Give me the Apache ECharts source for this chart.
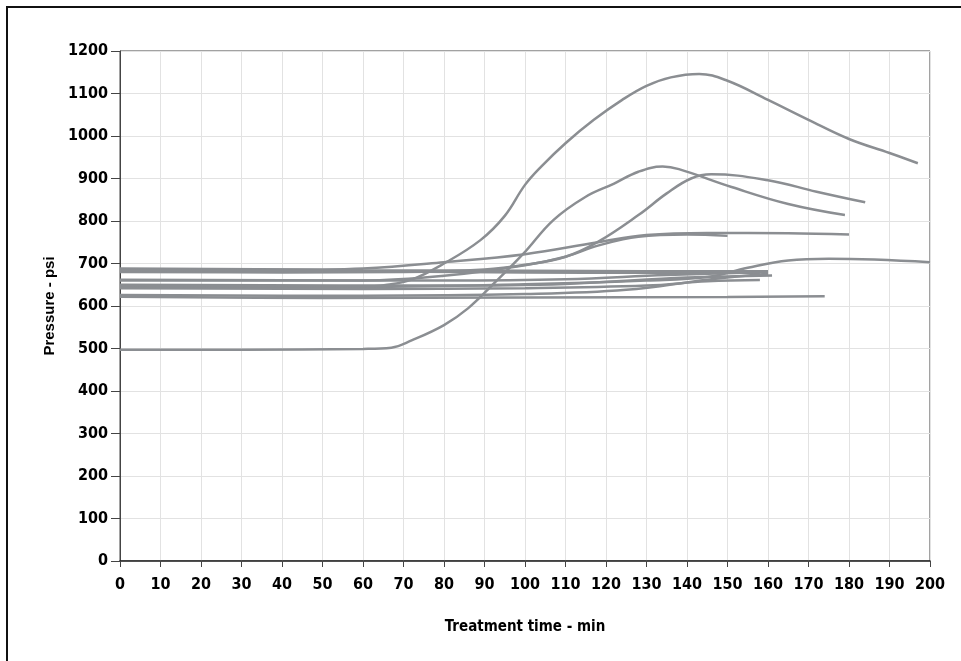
<!DOCTYPE html>
<html>
<head>
<meta charset="utf-8">
<script src="https://cdn.jsdelivr.net/npm/echarts@6/dist/echarts.min.js"></script>
<style>
html,body{margin:0;padding:0;background:#fff;}
#chart{width:961px;height:661px;}
</style>
</head>
<body>
<div id="chart"></div>
<script>
// Treatment time (min) ticks and pressure (psi) ticks
const xTicks = [0,10,20,30,40,50,60,70,80,90,100,110,120,130,140,150,160,170,180,190,200];
const yTicks = [0,100,200,300,400,500,600,700,800,900,1000,1100,1200];

// Each well curve: [time, pressure]
const wellPeak1146 = [[0,645],[30,644],[60,645],[66,650],[72,662],[80,700],[89,755],[95,812],[100,885],[104,928],[110,983],[117,1038],[124,1085],[130,1118],[136,1138],[143,1146],[150,1130],[160,1085],[170,1038],[180,993],[190,960],[197,936]];
const wellPeak927 = [[0,497],[30,497],[60,499],[67,502],[72,519],[80,555],[86,595],[92,650],[99.6,723],[107,802],[115,857],[122,888],[128,916],[134,928],[138,922],[151,880],[165,840],[179,814]];
const wellPeak910 = [[0,680],[40,679],[70,680],[90,686],[100,697],[110,716],[118,751],[128,814],[135,865],[141,900],[146,910],[160,896],[172,869],[184,844]];
const wellPlateau770 = [[0,688],[50,686],[60,688],[80,703],[100,722],[118,750],[130,767],[145,772],[165,771],[180,768]];
const wellEnd766 = [[0,662],[60,660],[80,671],[100,696],[110,716],[118,742],[128,763],[140,768],[150,765]];
const wellRise710 = [[0,648],[60,645],[100,651],[130,660],[145,668],[155,690],[165,707],[175,711],[200,703]];
const wellFlat620 = [[0,622],[50,619],[100,620],[150,621],[174,623]];
const wellEnd682 = [[0,686],[60,684],[100,683],[130,682],[160,682]];
const wellEnd678 = [[0,684],[50,682],[100,679],[130,678],[158,678]];
const wellEnd672 = [[0,650],[80,648],[110,652],[140,667],[161,672]];
const wellEnd660 = [[0,642],[60,640],[100,642],[130,648],[145,658],[158,661]];
const wellEnd676 = [[0,626],[60,624],[100,628],[125,638],[145,662],[160,676]];
const wellEnd680 = [[0,660],[80,660],[110,663],[135,673],[160,680]];

const wells = [wellPeak1146, wellPeak927, wellPeak910, wellPlateau770, wellEnd766, wellRise710,
  wellFlat620, wellEnd682, wellEnd678, wellEnd672, wellEnd660, wellEnd676, wellEnd680];

const chart = echarts.init(document.getElementById('chart'));
const tickFont = '"Liberation Sans Narrow","DejaVu Sans Condensed","Liberation Sans",sans-serif';

chart.setOption({
  animation: false,
  backgroundColor: '#fff',
  graphic: [{
    type: 'rect',
    shape: {x: 7, y: 7, width: 1000, height: 700},
    style: {fill: 'none', stroke: '#111', lineWidth: 2},
    silent: true
  }],
  grid: {left: 120, right: 31, top: 51, bottom: 100, show: true, borderColor: '#444', borderWidth: 1, backgroundColor: 'transparent'},
  xAxis: {
    type: 'value', min: xTicks[0], max: xTicks[xTicks.length-1], interval: 10,
    name: 'Treatment time - min', nameLocation: 'middle', nameGap: 59,
    nameTextStyle: {fontFamily: tickFont, fontWeight: 'bold', fontSize: 15, color: '#000'},
    axisLine: {lineStyle: {color: '#222', width: 1.5}},
    axisTick: {show: true, length: 6, lineStyle: {color: '#444'}},
    axisLabel: {fontFamily: tickFont, fontWeight: 'bold', fontSize: 16, color: '#000', margin: 16,
      formatter: v => String(v)},
    splitLine: {show: true, lineStyle: {color: '#e2e2e2', width: 1}}
  },
  yAxis: {
    type: 'value', min: yTicks[0], max: yTicks[yTicks.length-1], interval: 100,
    name: 'Pressure - psi', nameLocation: 'middle', nameGap: 58,
    nameTextStyle: {fontFamily: '"Liberation Sans",Arial,sans-serif', fontWeight: 'bold', fontSize: 15, color: '#000'},
    axisLine: {show: true, lineStyle: {color: '#444', width: 1}},
    axisTick: {show: true, length: 9, lineStyle: {color: '#444'}},
    axisLabel: {fontFamily: tickFont, fontWeight: 'bold', fontSize: 16, color: '#000', margin: 12,
      formatter: v => String(v)},
    splitLine: {show: true, lineStyle: {color: '#e2e2e2', width: 1}}
  },
  series: wells.map((d, i) => ({
    type: 'line', name: 'well' + (i+1), data: d,
    showSymbol: false, smooth: 0.4,
    lineStyle: {color: '#8b8e92', width: 2.5},
    itemStyle: {color: '#8b8e92'}
  }))
});
</script>
</body>
</html>
